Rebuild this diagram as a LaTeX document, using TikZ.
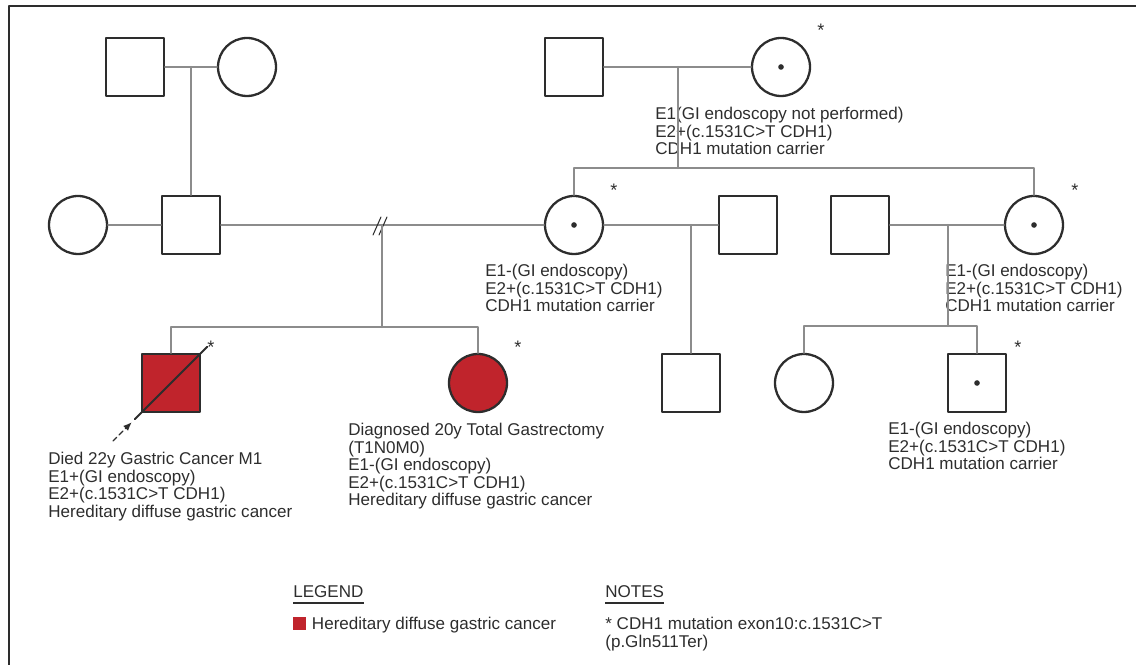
\documentclass[tikz,border=0pt]{standalone}
\usepackage{fontspec}
\setmainfont{Liberation Sans}
\usetikzlibrary{arrows.meta, calc, positioning}

\definecolor{symcol}{RGB}{45,45,45}
\definecolor{relcol}{RGB}{140,140,140}
\definecolor{txtcol}{RGB}{45,45,45}
\definecolor{hdgc}{RGB}{192,36,44}
\newcommand{\infofont}{\fontsize{9.7}{10}\selectfont}
\newcommand{\notefont}{\fontsize{10.3}{10.6}\selectfont}

\begin{document}
\begin{tikzpicture}[x=0.02cm, y=-0.02cm, >=Latex, line cap=round, line join=round,
	male/.style={draw=symcol, line width=1.3pt, minimum size=1.16cm, inner sep=0pt},
	female/.style={male, circle},
	affected/.style={fill=hdgc},
	rel/.style={draw=relcol, line width=1.2pt},
	info/.style={anchor=north west, align=left, inner sep=0pt, font=\infofont, text=txtcol},
	star/.style={inner sep=0pt, font=\notefont, text=symcol, yshift=-2.4pt}]

\useasboundingbox (0,0) rectangle (1136,665);
% frame
\draw[symcol, line width=1.1pt, line cap=butt] (9,665) -- (9,6) -- (1136,6);

% ================= Generation I =================
\node[male]   (pgf) at (135,67) {};
\node[female] (pgm) at (247,67) {};
\node[male]   (mgf) at (574,67) {};
\node[female] (mgm) at (781,67) {};
\fill[symcol] (mgm) circle (1.6pt);
\node[star] (s-mgm) at (821,26) {*};
\node[info] (t-mgm) at (655,107) {E1(GI endoscopy not performed)\\E2+(c.1531C>T CDH1)\\CDH1 mutation carrier};

% ================= Generation II =================
\node[female] (fw)  at (78,225) {};
\node[male]   (fa)  at (191,225) {};
\node[female] (mo)  at (574,225) {};
\node[male]   (mh)  at (748,225) {};
\node[male]   (ah)  at (860,225) {};
\node[female] (au)  at (1034,225) {};
\fill[symcol] (mo) circle (1.6pt);
\fill[symcol] (au) circle (1.6pt);
\node[star] (s-mo) at (614,186) {*};
\node[star] (s-au) at (1075,186) {*};
\node[info] (t-mo) at (485,264) {E1-(GI endoscopy)\\E2+(c.1531C>T CDH1)\\CDH1 mutation carrier};
\node[info] (t-au) at (945,264) {E1-(GI endoscopy)\\E2+(c.1531C>T CDH1)\\CDH1 mutation carrier};

% ================= Generation III =================
\node[male, affected]   (pb)  at (171,383) {};
\node[female, affected] (si)  at (478,383) {};
\node[male]   (hb)  at (691,383) {};
\node[female] (cf)  at (804,383) {};
\node[male]   (cm)  at (977,383) {};
\fill[symcol] (cm) circle (1.6pt);
\node[star] (s-pb) at (211,343) {*};
\node[star] (s-si) at (518,343) {*};
\node[star] (s-cm) at (1018,343) {*};
\node[info] (t-pb) at (48,452) {Died 22y Gastric Cancer M1\\E1+(GI endoscopy)\\E2+(c.1531C>T CDH1)\\Hereditary diffuse gastric cancer};
\node[info] (t-si) at (348,423) {Diagnosed 20y Total Gastrectomy\\(T1N0M0)\\E1-(GI endoscopy)\\E2+(c.1531C>T CDH1)\\Hereditary diffuse gastric cancer};
\node[info] (t-cm) at (888,422) {E1-(GI endoscopy)\\E2+(c.1531C>T CDH1)\\CDH1 mutation carrier};

% deceased + proband
\draw[symcol, line width=1.1pt] ($(pb.south west)+(-6,6)$) -- ($(pb.north east)+(6,-6)$);
\coordinate (pa) at (113,441);
\draw[symcol, line width=0.8pt, dash pattern=on 3pt off 2pt, -{Latex[length=5pt,width=4pt]}]
	(pa) -- ($(pb.south west)+(-9,9)$);

% ================= Lines of descent =================
\coordinate (m1) at (191,67);
\coordinate (m2) at (678,67);
\coordinate (s2) at (678,168);
\coordinate (m3) at (382,225);
\coordinate (s3) at (382,327);
\coordinate (m4) at (691,225);
\coordinate (m5) at (948,225);
\coordinate (s5) at (948,326);

\draw[rel] (pgf) -- (pgm);
\draw[rel] (m1) -- (fa.north);
\draw[rel] (mgf) -- (mgm);
\draw[rel] (m2) -- (s2);
\draw[rel] (mo.north) |- (s2) -| (au.north);

\draw[rel] (fw) -- (fa);
\draw[rel] (fa) -- (mo);
\draw[symcol, line width=0.6pt] (373,235) -- (381,217) (379,235) -- (387,217);
\draw[rel] (m3) -- (s3);
\draw[rel] (pb.north) |- (s3) -| (si.north);
\draw[rel] (mo) -- (mh);
\draw[rel] (m4) -- (hb.north);
\draw[rel] (ah) -- (au);
\draw[rel] (m5) -- (s5);
\draw[rel] (cf.north) |- (s5) -| (cm.north);

% ================= Legend / notes =================
\node[anchor=west, inner sep=0pt, font=\infofont, text=txtcol] (lg) at (293,592) {LEGEND};
\draw[symcol, line width=1.2pt, line cap=butt] ($(lg.south west)+(0,5)$) -- ($(lg.south east)+(0,5)$);
\node[fill=hdgc, inner sep=0pt, minimum size=0.26cm] (sw) at (299.5,623.5) {};
\node[right=3pt of sw, inner sep=0pt, font=\infofont, text=txtcol, yshift=-1pt] (lgt) {Hereditary diffuse gastric cancer};
\node[anchor=west, inner sep=0pt, font=\infofont, text=txtcol] (nt) at (605,592) {NOTES};
\draw[symcol, line width=1.2pt, line cap=butt] ($(nt.south west)+(0,5)$) -- ($(nt.south east)+(0,5)$);
\node[info] (ntt) at (605,617) {* CDH1 mutation exon10:c.1531C>T\\(p.Gln511Ter)};

\end{tikzpicture}
\end{document}
